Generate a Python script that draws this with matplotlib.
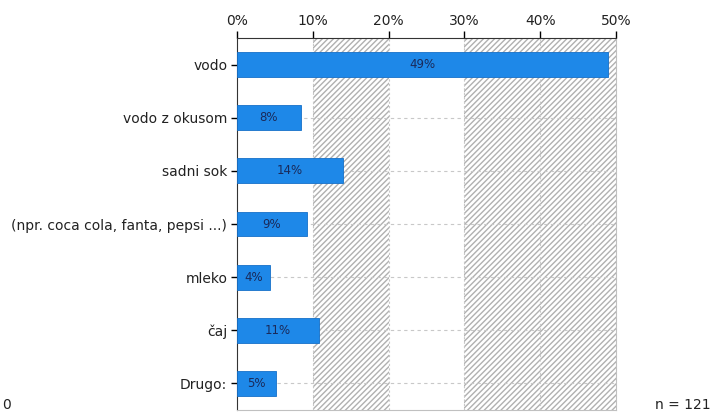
import matplotlib
matplotlib.use('Agg')
import matplotlib.pyplot as plt
import numpy as np

categories = ['vodo', 'vodo z okusom', 'sadni sok', '(npr. coca cola, fanta, pepsi ...)',
              'mleko', 'čaj', 'Drugo:']
values = [49, 8.4, 14, 9.2, 4.3, 10.8, 5.1]
labels = ['49%', '8%', '14%', '9%', '4%', '11%', '5%']
ticks = [0, 10, 20, 30, 40, 50]
tick_labels = ['0%', '10%', '20%', '30%', '40%', '50%']
hatched_bands = [(10, 20), (30, 50)]
n_text = 'n = 121'

plt.rcParams['font.family'] = ['DejaVu Sans']
fig = plt.figure(figsize=(7.26, 4.17), dpi=100)
ax = fig.add_axes([237 / 726, 1 - 410 / 417, (616 - 237) / 726, (410 - 38) / 417])

y = np.arange(len(categories))
ax.set_xlim(0, 50)
ax.set_ylim(len(categories) - 0.5, -0.5)

# background bands
for lo, hi in hatched_bands:
    ax.axvspan(lo, hi, facecolor='white', edgecolor='#b0b0b0', hatch='//////',
               linewidth=0, zorder=0)
for x in ticks[1:-1]:
    ax.axvline(x, color='#c8c8c8', linestyle=(0, (2, 2)), linewidth=0.8, zorder=1)
for yy in y[1:]:
    ax.axhline(yy, color='#c8c8c8', linestyle=(0, (3, 3)), linewidth=0.8, zorder=1)

bars = ax.barh(y, values, height=0.47, color='#1e88e8', edgecolor='#1670c8',
               linewidth=0.6, zorder=3)
for b, lab in zip(bars, labels):
    ax.text(b.get_width() / 2, b.get_y() + b.get_height() / 2, lab,
            ha='center', va='center', fontsize=8.5, color='#1a2a5a', zorder=4)

ax.xaxis.tick_top()
ax.set_xticks(ticks)
ax.set_xticklabels(tick_labels, fontsize=10, color='#222222')
ax.set_yticks(y)
ax.set_yticklabels(categories, fontsize=10, color='#222222')
ax.tick_params(axis='x', length=5, width=1, pad=2)
ax.tick_params(axis='y', length=4, width=1, pad=3)

ax.spines['top'].set_color('#333333')
ax.spines['left'].set_color('#333333')
ax.spines['right'].set_color('#c0c0c0')
ax.spines['bottom'].set_color('#c0c0c0')

fig.text(655 / 726, 1 - 405 / 417, n_text, fontsize=10, color='#222222', va='center')
fig.text(2 / 726, 1 - 405 / 417, '0', fontsize=10, color='#222222', va='center')

fig.savefig('out.png', dpi=100)
